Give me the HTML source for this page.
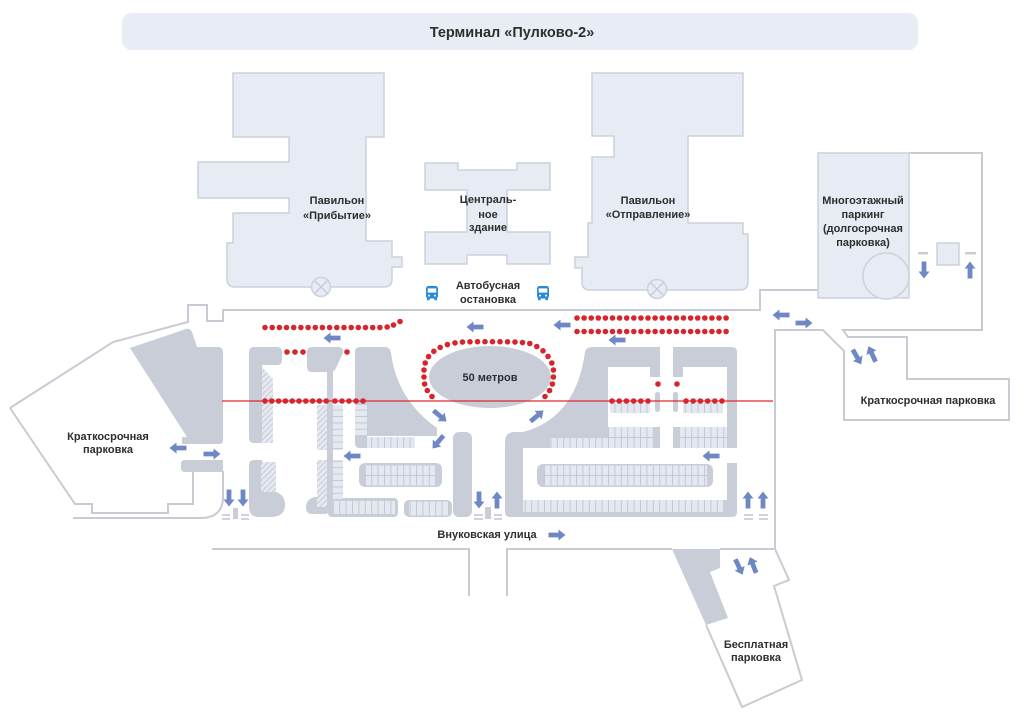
<!DOCTYPE html>
<html><head><meta charset="utf-8"><style>
html,body{margin:0;padding:0;background:#fff;width:1024px;height:714px;overflow:hidden}
svg{display:block}
text{font-family:"Liberation Sans","Noto Sans CJK SC",sans-serif;font-weight:bold;fill:#2e2e2e;font-size:11px;text-anchor:middle}
</style></head><body>
<svg width="1024" height="714" viewBox="0 0 1024 714" xmlns="http://www.w3.org/2000/svg">
<defs>
 <path id="arr" d="M-8.5,-2.4 L1.5,-2.4 L1.5,-5.5 L8.5,0 L1.5,5.5 L1.5,2.4 L-8.5,2.4 Z" fill="#6f88c3"/>
 <pattern id="vc" width="6.4" height="20" patternUnits="userSpaceOnUse"><rect width="6.4" height="20" fill="#e4e8f0"/><rect width="1" height="20" fill="#c3c8d3"/></pattern>
 <pattern id="hc" width="20" height="6.4" patternUnits="userSpaceOnUse"><rect width="20" height="6.4" fill="#e4e8f0"/><rect width="20" height="1" fill="#c3c8d3"/></pattern>
 <pattern id="ht" width="4" height="4" patternUnits="userSpaceOnUse" patternTransform="rotate(45)"><rect width="4" height="4" fill="#e6e9f0"/><rect width="1" height="4" fill="#c5cad5"/></pattern>
 <g id="bus"><rect x="-6" y="-7" width="12" height="12.5" rx="2.5" fill="#2b8ad6"/><rect x="-4.3" y="-4.6" width="8.6" height="4.2" fill="#fff"/><circle cx="-3" cy="2.6" r="1" fill="#fff"/><circle cx="3" cy="2.6" r="1" fill="#fff"/><rect x="-5" y="5" width="2.6" height="2.2" fill="#2b8ad6"/><rect x="2.4" y="5" width="2.6" height="2.2" fill="#2b8ad6"/></g>
</defs>

<!-- title -->
<rect x="122" y="13" width="796" height="37" rx="10" fill="#e7ecf5"/>
<text x="512" y="37" style="font-size:14.5px">Терминал «Пулково-2»</text>

<!-- outline lines -->
<g fill="none" stroke="#c8cbd3" stroke-width="2" stroke-linejoin="miter">
 <path d="M10,408 L113,342 L188,322 L188,305 L207,305 L207,321 L223,321 L223,310 L760,310 L760,290 L818,290"/>
 <path d="M10,408 L75,504 L92,504 L92,513 L168,513 L168,504 L193,504 L193,472"/>
 <path d="M73,518 L200,518 Q223,518 223,497 L223,471"/>
 <path d="M212,549 L469,549 L469,596"/>
 <path d="M507,596 L507,549 L672,549"/>
 <path d="M720,549 L775,549 L789,580 L774,586 L802,680 L742,707 L706,625"/>
 <path d="M775,549 L775,330 L823,330 L844,351 L844,420 L1009,420 L1009,379 L907,379 L907,337 L848,337 L843,330 L982,330 L982,153 L909,153"/>
</g>

<!-- buildings -->
<g fill="#e6ebf4" stroke="#ccd1db" stroke-width="1.5">
 <path d="M233,73 L384,73 L384,137 L366,137 L366,241 L392,241 L392,257 L402,257 L402,267 L392,267 L392,279 Q392,287 384,287 L235,287 Q227,287 227,279 L227,243 L233,243 L233,213 L289,213 L289,198 L198,198 L198,162 L289,162 L289,137 L233,137 Z"/>
 <path d="M592,73 L743,73 L743,136 L688,136 L688,223 L743,223 L743,234 L748,234 L748,282 Q748,290 740,290 L590,290 Q582,290 582,282 L582,268 L575,268 L575,257 L588,257 L588,223 L592,223 L592,157 L614,157 L614,136 L592,136 Z"/>
 <path d="M425,163 L458,163 L458,170 L517,170 L517,163 L550,163 L550,190 L507,190 L507,232 L550,232 L550,264 L507,264 L507,255 L467,255 L467,264 L425,264 L425,232 L467,232 L467,190 L425,190 Z"/>
 <rect x="818" y="153" width="91" height="145"/>
 <circle cx="886" cy="276" r="23"/>
 <rect x="937" y="243" width="22" height="22"/>
 <circle cx="321" cy="287" r="9.5"/>
 <circle cx="657" cy="289" r="9.5"/>
</g>
<g stroke="#c5cad4" stroke-width="1.3">
 <path d="M314.5,280.5 L327.5,293.5 M327.5,280.5 L314.5,293.5"/>
 <path d="M650.5,282.5 L663.5,295.5 M663.5,282.5 L650.5,295.5"/>
</g>

<!-- grey parking masses -->
<g fill="#c8cdd8">
 <path d="M130,348 L186,329 Q190,328 192,332 L197,347 L218,347 Q223,347 223,352 L223,440 Q223,444 219,444 L182,444 L182,437 L187,437 Z"/>
 <path d="M185,460 L223,460 L223,472 L185,472 Q181,472 181,468 L181,464 Q181,460 185,460 Z"/>
 <!-- block B -->
 <path d="M249,352 Q249,347 254,347 L277,347 Q282,347 282,352 L282,360 Q282,365 277,365 L262,365 L262,443 L254,443 Q249,443 249,438 Z"/>
 <path d="M249,465 Q249,460 254,460 L262,460 L262,492 L276,492 Q285,495 285,505 Q285,517 270,517 L258,517 Q249,517 249,506 Z"/>
 <!-- block C -->
 <path d="M307,352 Q307,347 312,347 L339,347 Q345,348 342,355 L336,368 Q334,372 330,372 L312,372 Q307,372 307,367 Z"/>
 <rect x="327" y="370" width="6" height="143"/>
 <path d="M314,497 L327,497 L327,514 L312,514 Q306,514 306,507 Q306,500 314,497 Z"/>
 <rect x="328" y="498" width="70" height="19" rx="4"/>
 <!-- block D -->
 <path d="M355,352 Q355,347 360,347 L385,347 Q390,347 391,353 Q397,400 437,428 L437,436 L367,436 L367,448 L360,448 Q355,448 355,443 Z"/>
 <rect x="359" y="463" width="83" height="24" rx="6"/>
 <rect x="404" y="500" width="48" height="17" rx="5"/>
 <rect x="453" y="432" width="19" height="85" rx="6"/>
 <ellipse cx="490" cy="377" rx="61" ry="31"/>
 <!-- right parking -->
 <path d="M505,512 L505,442 Q505,432 515,432 L523,432 Q576,418 585,352 Q586,347 592,347 L732,347 Q737,347 737,352 L737,512 Q737,517 732,517 L510,517 Q505,517 505,512 Z"/>
 <path d="M672,549 L720,549 L720,568 L710,572 L728,618 L706,625 Z"/>
</g>
<!-- white cut-outs in right parking -->
<g fill="#fff">
 <rect x="608" y="367" width="42" height="60"/>
 <rect x="650" y="377" width="33" height="50"/>
 <rect x="660" y="347" width="13" height="101"/>
 <rect x="683" y="367" width="44" height="60"/>
 <rect x="523" y="448" width="218" height="15"/>
 <rect x="523" y="463" width="204" height="37"/>
</g>
<g fill="#c8cdd8">
 <rect x="655" y="392" width="5" height="20" rx="2.5"/>
 <rect x="673" y="392" width="5" height="20" rx="2.5"/>
 <rect x="537" y="464" width="176" height="23" rx="6"/>
</g>

<!-- grids and hatches -->
<g>
 <path d="M262,367 L273,379 L273,443 L262,443 Z" fill="url(#ht)"/>
 <rect x="261" y="462" width="15" height="30" fill="url(#ht)"/>
 <rect x="317" y="405" width="10" height="45" fill="url(#ht)"/>
 <rect x="317" y="460" width="10" height="47" fill="url(#ht)"/>
 <rect x="333" y="405" width="10" height="45" fill="url(#hc)"/>
 <rect x="333" y="460" width="10" height="40" fill="url(#hc)"/>
 <rect x="334" y="501" width="61" height="13" fill="url(#vc)"/>
 <rect x="355" y="405" width="12" height="31" fill="url(#hc)"/>
 <rect x="367" y="437" width="48" height="11" fill="url(#vc)"/>
 <rect x="366" y="465.5" width="69" height="20" fill="url(#vc)"/>
 <rect x="409" y="501.5" width="40" height="14" fill="url(#vc)"/>
 <rect x="610" y="403" width="40" height="10" fill="url(#vc)"/>
 <rect x="683" y="403" width="40" height="10" fill="url(#vc)"/>
 <rect x="608" y="427" width="45" height="21" fill="url(#vc)"/>
 <rect x="550" y="438" width="58" height="10" fill="url(#vc)"/>
 <rect x="680" y="427" width="47" height="21" fill="url(#vc)"/>
 <rect x="544" y="465.5" width="163" height="20" fill="url(#vc)"/>
 <rect x="523" y="500" width="200" height="12" fill="url(#vc)"/>
</g>
<g stroke="#c3c8d3" stroke-width="1">
 <path d="M366,475.5 L435,475.5 M544,475.5 L707,475.5 M608,437.5 L653,437.5 M680,437.5 L727,437.5"/>
</g>

<!-- dash marks -->
<g stroke="#c9cdd6" stroke-width="1.8">
 <path d="M222,515 L230,515 M222,519 L230,519 M241,515 L249,515 M241,519 L249,519"/>
 <path d="M474,515 L483,515 M474,519 L483,519 M494,515 L502,515 M494,519 L502,519"/>
 <path d="M744,515 L753,515 M744,519 L753,519 M759,515 L768,515 M759,519 L768,519"/>
</g>
<g fill="#c9cdd6">
 <rect x="233" y="508" width="5" height="11"/>
 <rect x="485" y="507" width="6" height="12"/>
 <rect x="918" y="252" width="10" height="2.5"/>
 <rect x="965" y="252" width="11" height="2.5"/>
</g>

<!-- red line -->
<line x1="222" y1="401" x2="773" y2="401" stroke="#e0262e" stroke-width="1.3"/>

<!-- red dots -->
<g fill="#d7252e">
 <circle cx="265" cy="327.5" r="2.8"/><circle cx="272.2" cy="327.5" r="2.8"/><circle cx="279.4" cy="327.5" r="2.8"/><circle cx="286.5" cy="327.5" r="2.8"/><circle cx="293.7" cy="327.5" r="2.8"/><circle cx="300.9" cy="327.5" r="2.8"/><circle cx="308.1" cy="327.5" r="2.8"/><circle cx="315.3" cy="327.5" r="2.8"/><circle cx="322.4" cy="327.5" r="2.8"/><circle cx="329.6" cy="327.5" r="2.8"/><circle cx="336.8" cy="327.5" r="2.8"/><circle cx="344" cy="327.5" r="2.8"/><circle cx="351.2" cy="327.5" r="2.8"/><circle cx="358.3" cy="327.5" r="2.8"/><circle cx="365.5" cy="327.5" r="2.8"/><circle cx="372.7" cy="327.5" r="2.8"/><circle cx="379.9" cy="327.5" r="2.8"/><circle cx="387.1" cy="327" r="2.8"/><circle cx="393.5" cy="325" r="2.8"/><circle cx="400" cy="321.5" r="2.8"/>
 <circle cx="287" cy="352" r="2.8"/><circle cx="295" cy="352" r="2.8"/><circle cx="303" cy="352" r="2.8"/><circle cx="347" cy="352" r="2.8"/>
 <circle cx="265" cy="401" r="2.8"/><circle cx="271.8" cy="401" r="2.8"/><circle cx="278.6" cy="401" r="2.8"/><circle cx="285.4" cy="401" r="2.8"/><circle cx="292.2" cy="401" r="2.8"/><circle cx="299" cy="401" r="2.8"/><circle cx="305.8" cy="401" r="2.8"/><circle cx="312.6" cy="401" r="2.8"/><circle cx="319.4" cy="401" r="2.8"/><circle cx="326.2" cy="401" r="2.8"/>
 <circle cx="335" cy="401" r="2.8"/><circle cx="342" cy="401" r="2.8"/><circle cx="349" cy="401" r="2.8"/><circle cx="356" cy="401" r="2.8"/><circle cx="363" cy="401" r="2.8"/>
 <circle cx="612" cy="401" r="2.8"/><circle cx="619.2" cy="401" r="2.8"/><circle cx="626.4" cy="401" r="2.8"/><circle cx="633.6" cy="401" r="2.8"/><circle cx="640.8" cy="401" r="2.8"/><circle cx="648" cy="401" r="2.8"/>
 <circle cx="686" cy="401" r="2.8"/><circle cx="693.2" cy="401" r="2.8"/><circle cx="700.4" cy="401" r="2.8"/><circle cx="707.6" cy="401" r="2.8"/><circle cx="714.8" cy="401" r="2.8"/><circle cx="722" cy="401" r="2.8"/>
 <circle cx="658" cy="384" r="2.8"/><circle cx="677" cy="384" r="2.8"/>
 <circle cx="577" cy="318" r="2.8"/><circle cx="584.1" cy="318" r="2.8"/><circle cx="591.2" cy="318" r="2.8"/><circle cx="598.3" cy="318" r="2.8"/><circle cx="605.4" cy="318" r="2.8"/><circle cx="612.5" cy="318" r="2.8"/><circle cx="619.6" cy="318" r="2.8"/><circle cx="626.7" cy="318" r="2.8"/><circle cx="633.8" cy="318" r="2.8"/><circle cx="640.9" cy="318" r="2.8"/><circle cx="648" cy="318" r="2.8"/><circle cx="655.1" cy="318" r="2.8"/><circle cx="662.2" cy="318" r="2.8"/><circle cx="669.3" cy="318" r="2.8"/><circle cx="676.4" cy="318" r="2.8"/><circle cx="683.5" cy="318" r="2.8"/><circle cx="690.6" cy="318" r="2.8"/><circle cx="697.7" cy="318" r="2.8"/><circle cx="704.8" cy="318" r="2.8"/><circle cx="711.9" cy="318" r="2.8"/><circle cx="719" cy="318" r="2.8"/><circle cx="726.1" cy="318" r="2.8"/>
 <circle cx="577" cy="331.5" r="2.8"/><circle cx="584.1" cy="331.5" r="2.8"/><circle cx="591.2" cy="331.5" r="2.8"/><circle cx="598.3" cy="331.5" r="2.8"/><circle cx="605.4" cy="331.5" r="2.8"/><circle cx="612.5" cy="331.5" r="2.8"/><circle cx="619.6" cy="331.5" r="2.8"/><circle cx="626.7" cy="331.5" r="2.8"/><circle cx="633.8" cy="331.5" r="2.8"/><circle cx="640.9" cy="331.5" r="2.8"/><circle cx="648" cy="331.5" r="2.8"/><circle cx="655.1" cy="331.5" r="2.8"/><circle cx="662.2" cy="331.5" r="2.8"/><circle cx="669.3" cy="331.5" r="2.8"/><circle cx="676.4" cy="331.5" r="2.8"/><circle cx="683.5" cy="331.5" r="2.8"/><circle cx="690.6" cy="331.5" r="2.8"/><circle cx="697.7" cy="331.5" r="2.8"/><circle cx="704.8" cy="331.5" r="2.8"/><circle cx="711.9" cy="331.5" r="2.8"/><circle cx="719" cy="331.5" r="2.8"/><circle cx="726.1" cy="331.5" r="2.8"/>
 <circle cx="432" cy="396.5" r="2.8"/><circle cx="427.3" cy="390.5" r="2.8"/><circle cx="424.6" cy="384" r="2.8"/><circle cx="424" cy="377" r="2.8"/><circle cx="424" cy="370" r="2.8"/><circle cx="425.2" cy="363" r="2.8"/><circle cx="428.6" cy="356.6" r="2.8"/><circle cx="433.8" cy="351.3" r="2.8"/><circle cx="440.2" cy="347.4" r="2.8"/><circle cx="447.4" cy="344.6" r="2.8"/><circle cx="455" cy="342.9" r="2.8"/>
 <circle cx="462.5" cy="342" r="2.8"/><circle cx="470" cy="341.8" r="2.8"/><circle cx="477.5" cy="341.7" r="2.8"/><circle cx="485" cy="341.7" r="2.8"/><circle cx="492.5" cy="341.7" r="2.8"/><circle cx="500" cy="341.7" r="2.8"/><circle cx="507.5" cy="341.8" r="2.8"/><circle cx="515" cy="342" r="2.8"/><circle cx="522.5" cy="342.5" r="2.8"/>
 <circle cx="529.8" cy="343.5" r="2.8"/><circle cx="536.8" cy="346.5" r="2.8"/><circle cx="543" cy="350.8" r="2.8"/><circle cx="548" cy="356.4" r="2.8"/><circle cx="551.8" cy="363" r="2.8"/><circle cx="553.4" cy="370" r="2.8"/><circle cx="553.4" cy="377" r="2.8"/><circle cx="552.4" cy="384" r="2.8"/><circle cx="549.6" cy="390.5" r="2.8"/><circle cx="545" cy="396.5" r="2.8"/>
</g>

<!-- arrows -->
<use href="#arr" transform="translate(332,338) rotate(180)"/>
<use href="#arr" transform="translate(475,327) rotate(180)"/>
<use href="#arr" transform="translate(562,325) rotate(180)"/>
<use href="#arr" transform="translate(617,340) rotate(180)"/>
<use href="#arr" transform="translate(781,315) rotate(180)"/>
<use href="#arr" transform="translate(804,323)"/>
<use href="#arr" transform="translate(857,357) rotate(60)"/>
<use href="#arr" transform="translate(872,354) rotate(-115)"/>
<use href="#arr" transform="translate(924,270) rotate(90)"/>
<use href="#arr" transform="translate(970,270) rotate(-90)"/>
<use href="#arr" transform="translate(178,448) rotate(180)"/>
<use href="#arr" transform="translate(212,454)"/>
<use href="#arr" transform="translate(229,498) rotate(90)"/>
<use href="#arr" transform="translate(243,498) rotate(90)"/>
<use href="#arr" transform="translate(352,456) rotate(180)"/>
<use href="#arr" transform="translate(440,416) rotate(40)"/>
<use href="#arr" transform="translate(438,442) rotate(130)"/>
<use href="#arr" transform="translate(537,416) rotate(-40)"/>
<use href="#arr" transform="translate(479,500) rotate(90)"/>
<use href="#arr" transform="translate(497,500) rotate(-90)"/>
<use href="#arr" transform="translate(711,456) rotate(180)"/>
<use href="#arr" transform="translate(748,500) rotate(-90)"/>
<use href="#arr" transform="translate(763,500) rotate(-90)"/>
<use href="#arr" transform="translate(557,535)"/>
<use href="#arr" transform="translate(739,567) rotate(65)"/>
<use href="#arr" transform="translate(753,565) rotate(-112)"/>

<!-- buses -->
<use href="#bus" transform="translate(432,293)"/>
<use href="#bus" transform="translate(543,293)"/>

<!-- labels -->
<text x="337" y="204">Павильон</text>
<text x="337" y="219">«Прибытие»</text>
<text x="488" y="203">Централь-</text>
<text x="488" y="218">ное</text>
<text x="488" y="231">здание</text>
<text x="648" y="204">Павильон</text>
<text x="648" y="218">«Отправление»</text>
<text x="863" y="204">Многоэтажный</text>
<text x="863" y="218">паркинг</text>
<text x="863" y="232">(долгосрочная</text>
<text x="863" y="246">парковка)</text>
<text x="488" y="289">Автобусная</text>
<text x="488" y="303">остановка</text>
<text x="490" y="381">50 метров</text>
<text x="108" y="440">Краткосрочная</text>
<text x="108" y="453">парковка</text>
<text x="928" y="404">Краткосрочная парковка</text>
<text x="487" y="538">Внуковская улица</text>
<text x="756" y="648">Бесплатная</text>
<text x="756" y="661">парковка</text>
</svg>
</body></html>
